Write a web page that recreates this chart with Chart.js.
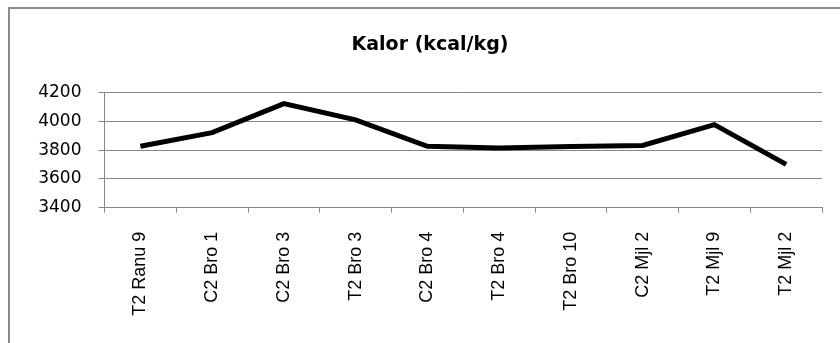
<!DOCTYPE html>
<html>
<head>
<meta charset="utf-8">
<script src="https://cdn.jsdelivr.net/npm/chart.js@4/dist/chart.umd.min.js"></script>
<style>
  html, body { margin: 0; padding: 0; background: #fff; overflow: hidden; width: 840px; height: 343px; }
  #frame { position: absolute; left: 8px; top: 7px; width: 850px; height: 350px;
           border-left: 2px solid #8c8c8c; border-top: 2px solid #8c8c8c; }
  #wrap { position: absolute; left: 0; top: 0; width: 840px; height: 334px; }
</style>
</head>
<body>
<div id="frame"><div id="wrap"><canvas id="c" width="840" height="334"></canvas></div></div>
<script>
const categories = ["T2 Ranu 9", "C2 Bro 1", "C2 Bro 3", "T2 Bro 3", "C2 Bro 4", "T2 Bro 4", "T2 Bro 10", "C2 Mjl 2", "T2 Mjl 9", "T2 Mjl 2"];
const kalor = [3828, 3923, 4125, 4012, 3828, 3816, 3826, 3833, 3978, 3702];
const yTicks = [3400, 3600, 3800, 4000, 4200];
const chartTitle = "Kalor (kcal/kg)";

const gridColor = "#868686";

new Chart(document.getElementById("c"), {
  type: "line",
  data: {
    labels: categories,
    datasets: [{
      label: chartTitle,
      data: kalor,
      borderColor: "#000000",
      backgroundColor: "#000000",
      borderWidth: 5,
      pointRadius: 0,
      tension: 0,
      fill: false
    }]
  },
  options: {
    responsive: false,
    animation: false,
    devicePixelRatio: 1,
    layout: { padding: { left: 28, right: 28, top: 0, bottom: 0 } },
    plugins: {
      legend: { display: false },
      tooltip: { enabled: false },
      title: {
        display: true,
        text: chartTitle,
        color: "#000000",
        font: { family: "DejaVu Sans", size: 19, weight: "bold", lineHeight: 1.2 },
        padding: { top: 25, bottom: 36 }
      }
    },
    scales: {
      x: {
        type: "category",
        offset: true,
        grid: { display: true, offset: true, drawOnChartArea: false, drawTicks: true, tickLength: 5, color: gridColor, lineWidth: 1 },
        border: { display: true, color: gridColor, width: 1 },
        ticks: {
          minRotation: 90, maxRotation: 90, autoSkip: false, padding: 19,
          color: "#000000",
          font: { family: "Liberation Sans", size: 18 }
        },
        afterFit: (s) => { s.height = 135.3; }
      },
      y: {
        min: 3400, max: 4200,
        afterBuildTicks: (s) => { s.ticks = yTicks.map(v => ({ value: v })); },
        grid: { display: true, drawTicks: true, tickLength: 6, color: gridColor, lineWidth: 1 },
        border: { display: true, color: gridColor, width: 1 },
        ticks: {
          padding: 17,
          color: "#000000",
          font: { family: "DejaVu Sans", size: 17 },
          callback: (v) => String(v)
        },
        afterFit: (s) => { s.width = 66.5; }
      }
    }
  }
});
</script>
</body>
</html>
